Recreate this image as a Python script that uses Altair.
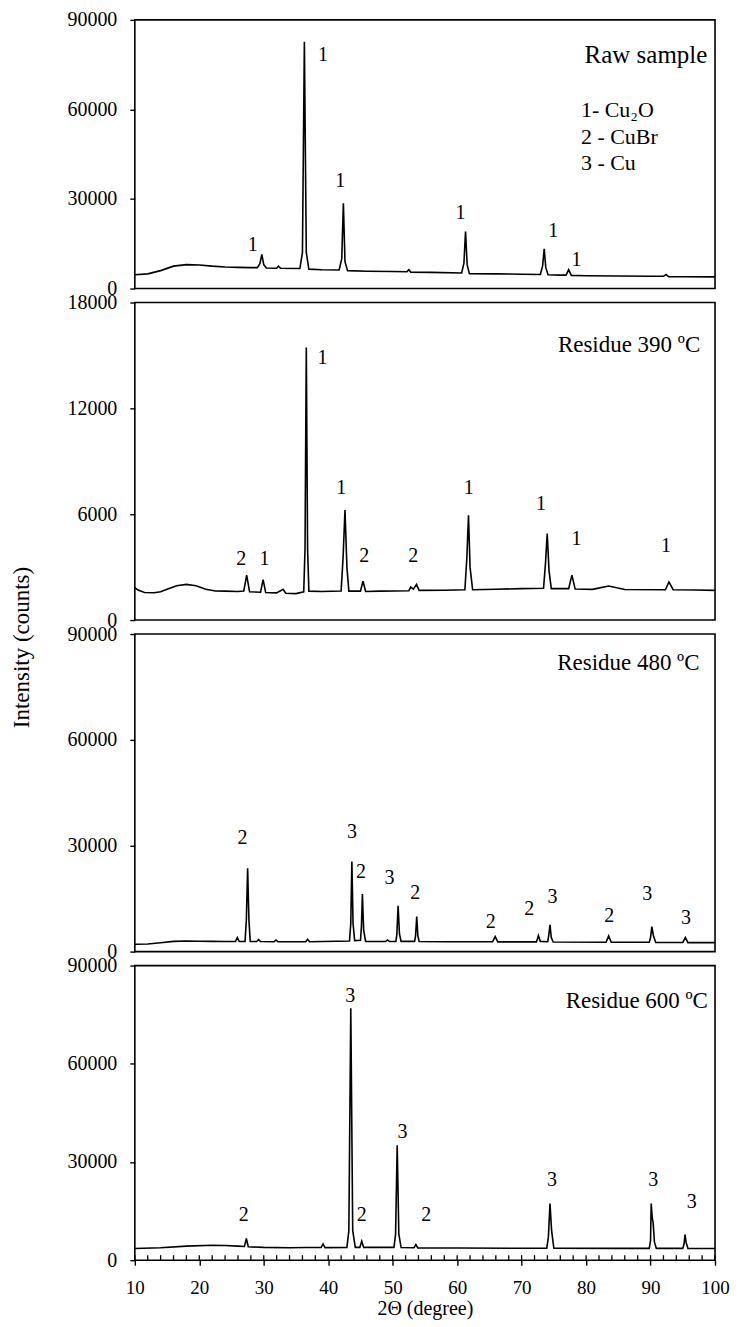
import altair as alt
import pandas as pd

FONT = "'Liberation Serif', 'Times New Roman', 'DejaVu Serif', serif"

# ---------------- Raw sample ----------------
raw_x = [10, 12, 14, 16, 18, 20, 22, 24, 26, 28, 29.0, 29.4, 29.7, 30.0, 30.4, 32.0, 32.3, 32.6,
         35.6, 36.0, 36.3, 36.6, 37.0, 39, 41.7, 42.1, 42.35, 42.6, 43.0, 46, 50, 52.2, 52.5, 52.8,
         56, 60.7, 61.05, 61.3, 61.55, 61.9, 66, 70, 72.9, 73.25, 73.5, 73.75, 74.1, 76, 76.9, 77.3,
         77.7, 80, 85, 90, 92.0, 92.4, 92.8, 95, 100]
raw_y = [4600, 4900, 6000, 7500, 8000, 7900, 7500, 7200, 7100, 7000, 7000, 8300, 11400, 8000, 6900,
         6800, 7500, 6800, 6700, 12000, 82700, 12000, 6500, 6300, 6200, 10000, 28600, 9000, 6000,
         5800, 5700, 5600, 6300, 5500, 5400, 5200, 8500, 19100, 8000, 5000, 4900, 4800, 4700, 7500,
         13300, 7000, 4600, 4500, 4500, 6300, 4400, 4300, 4200, 4100, 4100, 4700, 4000, 3950, 3900]
raw_lab_x = [28.3, 39.2, 41.85, 60.5, 74.9, 78.5]
raw_lab_y = [14700, 78300, 35900, 25300, 19200, 9700]
raw_lab_t = ["1", "1", "1", "1", "1", "1"]

legend_t = ["1- Cu\u2082O", "2 - CuBr", "3 - Cu"]
legend_y = [59900, 50900, 42200]

# ---------------- Residue 390 ----------------
r390_x = [10, 10.5, 11.5, 13, 14, 15, 16.5, 18, 19.5, 21, 22.5, 24, 26, 26.9, 27.35, 27.8, 29.5,
          29.9, 30.3, 32, 33, 33.4, 35, 36.2, 36.4, 36.6, 36.8, 37.0, 39, 42.0, 42.3, 42.6, 42.9,
          43.2, 45.0, 45.4, 45.8, 48, 52.5, 52.8, 53.2, 53.7, 54.1, 58, 61.2, 61.5, 61.76, 62.0,
          62.4, 66, 70, 73.4, 73.7, 73.97, 74.25, 74.6, 77.3, 77.8, 78.3, 81, 83.5, 86, 92.3,
          92.85, 93.5, 97, 100]
r390_y = [1830, 1700, 1560, 1550, 1600, 1750, 1950, 2020, 1950, 1750, 1650, 1640, 1620, 1650,
          2550, 1600, 1580, 2290, 1560, 1540, 1740, 1520, 1500, 1600, 4000, 15450, 4000, 1640,
          1620, 1650, 3500, 6240, 3000, 1640, 1640, 2210, 1620, 1640, 1660, 1870, 1750, 2020,
          1680, 1690, 1720, 3500, 5940, 3000, 1720, 1750, 1780, 1800, 3200, 4900, 2800, 1780,
          1780, 2550, 1760, 1740, 1930, 1730, 1720, 2160, 1720, 1700, 1680]
r390_lab_x = [26.5, 30.1, 39.1, 42.0, 45.6, 53.2, 61.8, 73.0, 78.5, 92.4]
r390_lab_y = [3440, 3440, 14880, 7510, 3630, 3630, 7510, 6560, 4580, 4200]
r390_lab_t = ["2", "1", "1", "1", "2", "2", "1", "1", "1", "1"]

# ---------------- Residue 480 ----------------
r480_x = [10, 12, 14, 16, 18, 20, 22, 24, 25.6, 25.9, 26.2, 27.1, 27.3, 27.5, 27.7, 27.9, 28.9,
          29.2, 29.5, 31.6, 31.9, 32.2, 36.5, 36.8, 37.1, 43.3, 43.5, 43.67, 43.85, 44.1, 45.0,
          45.15, 45.3, 45.5, 45.8, 48.9, 49.2, 49.5, 50.5, 50.65, 50.84, 51.05, 51.3, 53.4, 53.55,
          53.73, 53.9, 54.1, 58, 65.5, 65.9, 66.3, 72.3, 72.6, 72.9, 74.05, 74.2, 74.4, 74.6, 74.9,
          83.1, 83.5, 83.9, 89.8, 90.0, 90.2, 90.45, 90.8, 95.0, 95.4, 95.8, 100]
r480_y = [2080, 2150, 2500, 2900, 3000, 2950, 2900, 2850, 2850, 3970, 2850, 2900, 9000, 23630,
          9000, 2900, 2850, 3400, 2850, 2800, 3300, 2800, 2800, 3500, 2800, 3000, 8000, 25520,
          8000, 3100, 3200, 7000, 16350, 6000, 2900, 2850, 3300, 2850, 2900, 5000, 12950, 5000,
          2900, 2900, 4500, 9930, 4500, 2850, 2800, 2800, 4250, 2750, 2750, 4540, 2900, 2800,
          4500, 7560, 4000, 2700, 2650, 4440, 2650, 2650, 4000, 7090, 4500, 2600, 2600, 3970,
          2550, 2550]
r480_lab_x = [26.7, 43.7, 45.1, 49.5, 53.5, 65.2, 71.2, 74.8, 83.6, 89.5, 95.5]
r480_lab_y = [32140, 34030, 22690, 20800, 16540, 8510, 12100, 15600, 10210, 16350, 9450]
r480_lab_t = ["2", "3", "2", "3", "2", "2", "2", "3", "2", "3", "3"]

# ---------------- Residue 600 ----------------
r600_x = [10, 14, 18, 22, 24, 26, 27.0, 27.3, 27.6, 30, 34, 36.5, 38.9, 39.2, 39.5, 42.9, 43.2,
          43.5, 43.8, 44.2, 44.9, 45.2, 45.5, 50.2, 50.45, 50.7, 50.95, 51.3, 53.3, 53.6, 53.9,
          60, 70, 73.9, 74.15, 74.4, 74.65, 75.0, 85, 89.8, 90.0, 90.1, 90.25, 90.4, 90.6, 90.9,
          95.0, 95.2, 95.35, 95.5, 95.8, 100]
r600_y = [3560, 3800, 4300, 4580, 4500, 4300, 4200, 6610, 4100, 3900, 3800, 3860, 3850, 4980,
          3850, 3900, 9000, 77000, 9000, 3900, 3900, 5800, 3900, 3900, 8000, 35080, 8000, 3850,
          3800, 4780, 3750, 3700, 3650, 3650, 7000, 17290, 9000, 3650, 3600, 3600, 6000, 17290,
          13000, 11500, 5500, 3600, 3600, 5000, 7830, 5500, 3550, 3550]
r600_lab_x = [26.9, 43.4, 45.2, 51.5, 55.2, 74.7, 90.4, 96.4]
r600_lab_y = [13730, 80850, 13730, 39150, 13730, 24400, 24400, 17800]
r600_lab_t = ["2", "3", "2", "3", "2", "3", "3", "3"]

x_major = [10, 20, 30, 40, 50, 60, 70, 80, 90, 100]
x_minor = [10, 12, 14, 16, 18, 20, 22, 24, 26, 28, 30, 32, 34, 36, 38, 40, 42, 44, 46, 48, 50,
           52, 54, 56, 58, 60, 62, 64, 66, 68, 70, 72, 74, 76, 78, 80, 82, 84, 86, 88, 90, 92,
           94, 96, 98, 100]

W = 581


def panel(xs, ys, ymax, yticks, height, lx, ly, lt, title, tx, ty, title_size=23,
          show_x=False, ytitle=False, legend=False):
    xscale = alt.Scale(domain=[10, 100], nice=False, zero=False)
    yscale = alt.Scale(domain=[0, ymax], nice=False)
    if show_x:
        xaxis = alt.Axis(values=x_major, title="2\u0398 (degree)", labelFontSize=19,
                         labelPadding=13, titlePadding=1, titleFontSize=20,
                         labelFlush=False, tickSize=5, labelOverlap=False)
    else:
        xaxis = None
    if ytitle:
        yaxis = alt.Axis(values=yticks, format="d", title="Intensity (counts)",
                         titleX=-113, titleY=13, titleAngle=270, titleBaseline="middle",
                         titleAlign="center", titleFontSize=23)
    else:
        yaxis = alt.Axis(values=yticks, format="d", title=None)
    xenc = alt.X("x:Q", scale=xscale, axis=xaxis)
    yenc = alt.Y("y:Q", scale=yscale, axis=yaxis)

    line = alt.Chart(pd.DataFrame({"x": xs, "y": ys})).mark_line(
        color="black", strokeWidth=1.6).encode(x=xenc, y=yenc)
    labels = alt.Chart(pd.DataFrame({"x": lx, "y": ly, "t": lt})).mark_text(
        font=FONT, fontSize=20, color="black", baseline="middle", align="center"
    ).encode(x=xenc, y=yenc, text="t:N")
    ttl = alt.Chart(pd.DataFrame({"x": [tx], "y": [ty], "t": [title]})).mark_text(
        font=FONT, fontSize=title_size, color="black", baseline="middle", align="right"
    ).encode(x=xenc, y=yenc, text="t:N")
    layers = [line, labels, ttl]
    if legend:
        leg = alt.Chart(pd.DataFrame({"x": [79.2] * 3, "y": legend_y, "t": legend_t})).mark_text(
            font=FONT, fontSize=22, color="black", baseline="middle", align="left"
        ).encode(x=xenc, y=yenc, text="t:N")
        layers.append(leg)
    if show_x:
        ticks = alt.Chart(pd.DataFrame({"x": x_minor})).mark_rule(
            color="black", strokeWidth=1.3
        ).encode(x=xenc, y=alt.value(height - 5), y2=alt.value(height))
        layers.append(ticks)
    return alt.layer(*layers).properties(width=W, height=height)


p1 = panel(raw_x, raw_y, 90000, [0, 30000, 60000, 90000], 269,
           raw_lab_x, raw_lab_y, raw_lab_t, "Raw sample", 98.8, 78300, title_size=25, legend=True)
p2 = panel(r390_x, r390_y, 18000, [0, 6000, 12000, 18000], 318,
           r390_lab_x, r390_lab_y, r390_lab_t, "Residue 390 \u00baC", 97.7, 15600)
p3 = panel(r480_x, r480_y, 90000, [0, 30000, 60000, 90000], 318,
           r480_lab_x, r480_lab_y, r480_lab_t, "Residue 480 \u00baC", 97.6, 81900, ytitle=True)
p4 = panel(r600_x, r600_y, 90000, [0, 30000, 60000, 90000], 295,
           r600_lab_x, r600_lab_y, r600_lab_t, "Residue 600 \u00baC", 98.9, 79300, show_x=True)

chart = alt.vconcat(p1, p2, p3, p4, spacing=14, bounds="flush").properties(
    padding={"left": 2, "top": 0, "right": 0, "bottom": 0}
).configure_view(
    stroke="black", strokeWidth=1.6
).configure_axis(
    labelFont=FONT, labelFontSize=20, labelColor="black", labelPadding=13,
    tickColor="black", tickSize=5, tickWidth=1.4, domain=False, grid=False,
    titleFont=FONT, titleFontSize=19, titleFontWeight="normal", titleColor="black"
)

chart.save("out.html", embed_options={"renderer": "svg", "actions": False})
